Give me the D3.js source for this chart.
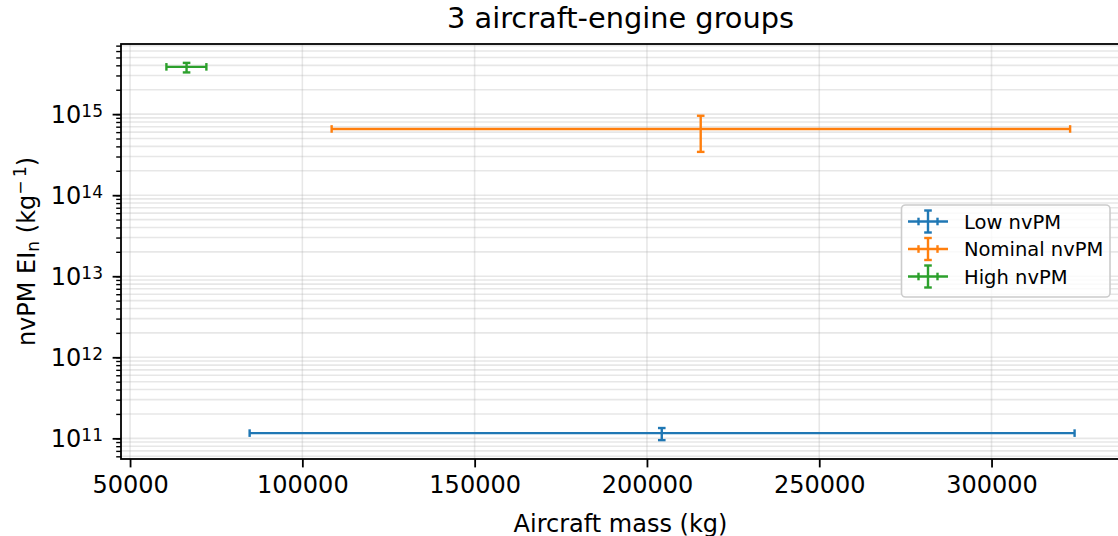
<!DOCTYPE html>
<html><head><meta charset="utf-8">
<script src="https://cdn.jsdelivr.net/npm/d3@7"></script>
<style>body{margin:0;background:#fff} text{font-family:"DejaVu Sans",sans-serif;fill:#000}</style>
</head><body><svg id="c" width="1118" height="536"></svg>
<script>
// ---- data ----
const groups = ["Low nvPM", "Nominal nvPM", "High nvPM"];
const colors = ["#1f77b4", "#ff7f0e", "#2ca02c"];
const massMean = [204300, 215600, 66400];
const massLow = [84700, 108500, 60550];
const massHigh = [324100, 322800, 72150];
const eiMean = [1.16e11, 6.56e14, 3.83e15];
const eiLow = [9.5e10, 3.42e14, 3.27e15];
const eiHigh = [1.34e11, 9.55e14, 4.29e15];
const xTicks = [50000, 100000, 150000, 200000, 250000, 300000];
const yTickExps = [11, 12, 13, 14, 15];
const titleText = "3 aircraft-engine groups";
const xLabelText = "Aircraft mass (kg)";

// ---- layout ----
const svg = d3.select("#c");
const L = 121, R = 1120, T = 44, B = 459;

const xmin = d3.min(massLow), xmax = d3.max(massHigh), xpad = 0.05 * (xmax - xmin);
const x = d3.scaleLinear().domain([xmin - xpad, xmax + xpad]).range([L, R]);
const lmin = Math.log10(d3.min(eiLow)), lmax = Math.log10(d3.max(eiHigh)), lpad = 0.05 * (lmax - lmin);
const y = d3.scaleLog().domain([10 ** (lmin - lpad), 10 ** (lmax + lpad)]).range([B, T]);

// minor log ticks
const [d0, d1] = y.domain();
const minor = [];
for (let e = Math.floor(Math.log10(d0)); e <= Math.ceil(Math.log10(d1)); e++) {
  for (let m = 1; m <= 9; m++) {
    const v = m * 10 ** e;
    if (v >= d0 && v <= d1) minor.push(v);
  }
}

// grid
const grid = svg.append("g");
grid.selectAll("line.hm").data(minor).join("line")
  .attr("x1", L).attr("x2", R).attr("y1", d => y(d)).attr("y2", d => y(d))
  .attr("stroke", "#b0b0b0").attr("stroke-opacity", 0.3).attr("stroke-width", 1.6);
grid.selectAll("line.v").data(xTicks).join("line")
  .attr("x1", d => x(d)).attr("x2", d => x(d)).attr("y1", T).attr("y2", B)
  .attr("stroke", "#b0b0b0").attr("stroke-opacity", 0.3).attr("stroke-width", 1.6);

// error bars
const cap = 3.8, lw = 2.4;
groups.forEach((g, i) => {
  const gg = svg.append("g").attr("stroke", colors[i]).attr("stroke-width", lw).attr("fill", "none");
  const cx = x(massMean[i]), cy = y(eiMean[i]);
  gg.append("line").attr("x1", x(massLow[i])).attr("x2", x(massHigh[i])).attr("y1", cy).attr("y2", cy);
  gg.append("line").attr("x1", cx).attr("x2", cx).attr("y1", y(eiLow[i])).attr("y2", y(eiHigh[i]));
  [massLow[i], massHigh[i]].forEach(v => gg.append("line")
    .attr("x1", x(v)).attr("x2", x(v)).attr("y1", cy - cap).attr("y2", cy + cap));
  [eiLow[i], eiHigh[i]].forEach(v => gg.append("line")
    .attr("x1", cx - cap).attr("x2", cx + cap).attr("y1", y(v)).attr("y2", y(v)));
});

// x axis
const xa = svg.append("g").attr("transform", `translate(0,${B})`)
  .call(d3.axisBottom(x).tickValues(xTicks).tickFormat(d3.format("d")).tickSize(8.4).tickPadding(9));
xa.select(".domain").remove();
xa.selectAll(".tick line").attr("stroke", "#000").attr("stroke-width", 1.8);
xa.selectAll(".tick text").attr("font-size", 24).attr("font-family", "DejaVu Sans").attr("fill", "#000");

// y axis minor
const ya2 = svg.append("g").attr("transform", `translate(${L},0)`)
  .call(d3.axisLeft(y).tickValues(minor).tickFormat("").tickSize(4.8));
ya2.select(".domain").remove();
ya2.selectAll(".tick line").attr("stroke", "#000").attr("stroke-width", 1.4);
// y axis major
const majors = yTickExps.map(e => 10 ** e);
const ya = svg.append("g").attr("transform", `translate(${L},0)`)
  .call(d3.axisLeft(y).tickValues(majors).tickFormat("").tickSize(8.4));
ya.select(".domain").remove();
ya.selectAll(".tick line").attr("stroke", "#000").attr("stroke-width", 1.8);
const yl = svg.append("g");
yTickExps.forEach(e => {
  const t = yl.append("text").attr("x", 103).attr("y", y(10 ** e) + 9).attr("text-anchor", "end")
    .attr("font-size", 24);
  t.append("tspan").text("10");
  t.append("tspan").attr("font-size", 17).attr("dy", -6).text(String(e));
});

// spines
svg.append("rect").attr("x", L).attr("y", T).attr("width", R - L).attr("height", B - T)
  .attr("fill", "none").attr("stroke", "#000").attr("stroke-width", 1.8);

// title and labels
svg.append("text").attr("x", (L + R) / 2).attr("y", 28.3).attr("text-anchor", "middle")
  .attr("font-size", 28.8).text(titleText);
svg.append("text").attr("x", (L + R) / 2).attr("y", 531.5).attr("text-anchor", "middle")
  .attr("font-size", 24).text(xLabelText);
const ylab = svg.append("text").attr("transform", `translate(35,${(T + B) / 2}) rotate(-90)`)
  .attr("text-anchor", "middle").attr("font-size", 24);
ylab.append("tspan").text("nvPM EI");
ylab.append("tspan").attr("font-size", 17).attr("dy", 4).text("n");
ylab.append("tspan").attr("dy", -4).text(" (kg");
ylab.append("tspan").attr("font-size", 17).attr("dy", -9).text("\u2212\u20091");
ylab.append("tspan").attr("dy", 9).text(")");

// legend
const lg = svg.append("g");
lg.append("rect").attr("x", 901.5).attr("y", 205).attr("width", 208.5).attr("height", 92).attr("rx", 4)
  .attr("fill", "#fff").attr("fill-opacity", 0.8).attr("stroke", "#cccccc").attr("stroke-width", 1.6);
const rowY = [221.5, 249, 276.5];
groups.forEach((g, i) => {
  const gg = lg.append("g").attr("stroke", colors[i]).attr("stroke-width", lw);
  const cx = 928, cy = rowY[i];
  gg.append("line").attr("x1", cx - 20).attr("x2", cx + 20).attr("y1", cy).attr("y2", cy);
  gg.append("line").attr("x1", cx).attr("x2", cx).attr("y1", cy - 11).attr("y2", cy + 11);
  [cx - 9.5, cx + 9.5].forEach(v => gg.append("line").attr("x1", v).attr("x2", v).attr("y1", cy - cap).attr("y2", cy + cap));
  [cy - 11, cy + 11].forEach(v => gg.append("line").attr("x1", cx - cap).attr("x2", cx + cap).attr("y1", v).attr("y2", v));
  lg.append("text").attr("x", 964).attr("y", cy + 7).attr("font-size", 19.5).text(g);
});
</script></body></html>
